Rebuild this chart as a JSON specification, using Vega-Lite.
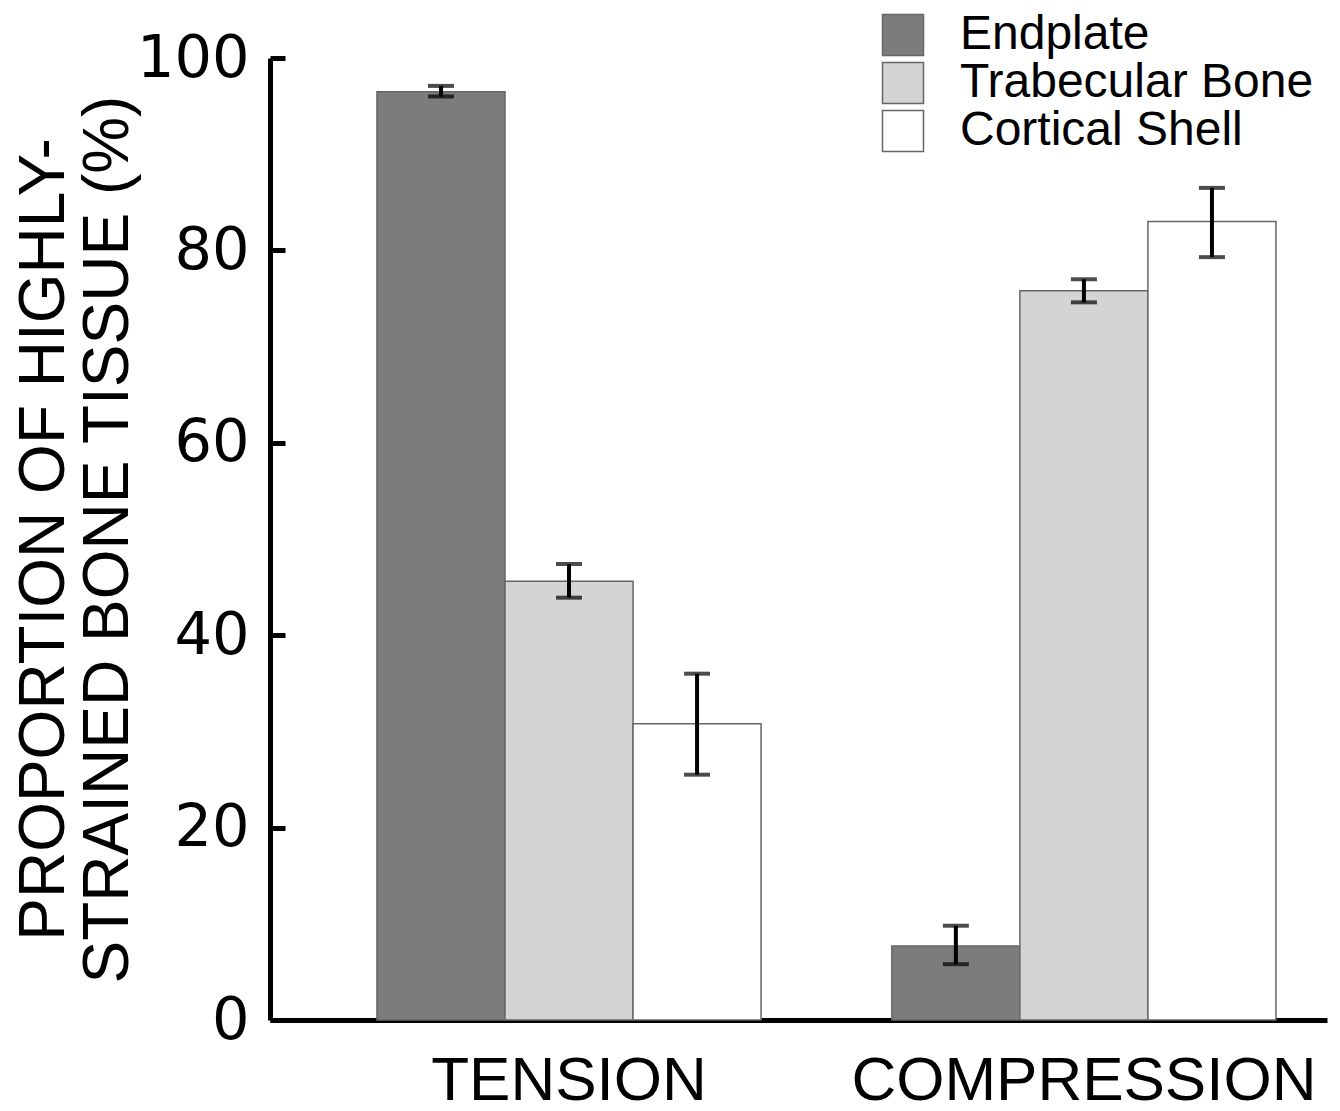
{
  "$schema": "https://vega.github.io/schema/vega-lite/v6.json",
  "width": 1057,
  "height": 962,
  "autosize": {"type": "none"},
  "padding": {"left": 270, "top": 58, "right": 13, "bottom": 91},
  "background": "white",
  "config": {"font": "Liberation Sans", "view": {"stroke": null}},
  "resolve": {"axis": {"y": "independent"}},
  "data": {
    "values": [
      {"load": "TENSION", "tissue": "Endplate", "value": 96.5, "lo": 96.0, "hi": 97.1},
      {"load": "TENSION", "tissue": "Trabecular Bone", "value": 45.6, "lo": 43.9, "hi": 47.4},
      {"load": "TENSION", "tissue": "Cortical Shell", "value": 30.8, "lo": 25.5, "hi": 36.0},
      {"load": "COMPRESSION", "tissue": "Endplate", "value": 7.7, "lo": 5.8, "hi": 9.8},
      {"load": "COMPRESSION", "tissue": "Trabecular Bone", "value": 75.8, "lo": 74.6, "hi": 77.0},
      {"load": "COMPRESSION", "tissue": "Cortical Shell", "value": 83.0, "lo": 79.3, "hi": 86.5}
    ]
  },
  "encoding": {
    "x": {
      "field": "load",
      "type": "nominal",
      "title": null,
      "scale": {"domain": ["TENSION", "COMPRESSION"], "paddingInner": 0.254, "paddingOuter": 0.1534, "align": 0.677},
      "axis": {"labelFontSize": 62, "labelColor": "black", "labelPadding": 30, "labelLimit": 1000, "ticks": false, "tickSize": 0, "domainWidth": 5, "domainColor": "black", "labelAngle": 0, "grid": false}
    },
    "xOffset": {
      "field": "tissue",
      "type": "nominal",
      "scale": {"domain": ["Endplate", "Trabecular Bone", "Cortical Shell"], "paddingInner": 0, "paddingOuter": 0}
    }
  },
  "layer": [
    {
      "mark": {"type": "bar", "stroke": "#666666", "strokeWidth": 1.5},
      "encoding": {
        "y": {
          "field": "value",
          "type": "quantitative",
          "scale": {"domain": [0, 100], "nice": false},
          "axis": {
            "orient": "left",
            "title": ["PROPORTION OF HIGHLY-", "STRAINED BONE TISSUE (%)"],
            "titleFontSize": 64,
            "titleFontWeight": "normal",
            "titleColor": "black",
            "titleAngle": -90,
            "titleAlign": "center",
            "titleBaseline": "alphabetic",
            "titleX": -207,
            "titleY": 481,
            "titleLineHeight": 64,
            "labelFont": "DejaVu Sans",
            "labelFontSize": 59,
            "labelColor": "black",
            "labelPadding": 21,
            "labelLimit": 1000,
            "ticks": false,
            "tickSize": 0,
            "domainWidth": 5,
            "domainColor": "black",
            "values": [0, 20, 40, 60, 80, 100],
            "grid": false,
            "labelFlush": false,
            "labelOverlap": false
          }
        },
        "fill": {
          "field": "tissue",
          "type": "nominal",
          "scale": {"domain": ["Endplate", "Trabecular Bone", "Cortical Shell"], "range": ["#7c7c7c", "#d4d4d4", "#ffffff"]},
          "legend": {
            "title": null,
            "orient": "none",
            "legendX": 609,
            "legendY": -47,
            "padding": 0,
            "symbolType": "square",
            "symbolSize": 1681,
            "labelFontSize": 48,
            "labelColor": "black",
            "labelLimit": 1000,
            "labelOffset": 33,
            "rowPadding": -10,
            "symbolStrokeColor": "#666666",
            "symbolStrokeWidth": 1.5
          }
        }
      }
    },
    {
      "mark": {"type": "rule", "color": "black", "strokeWidth": 4},
      "encoding": {
        "y": {
          "field": "lo",
          "type": "quantitative",
          "scale": {"domain": [0, 100], "nice": false},
          "axis": {
            "orient": "left",
            "offset": -15,
            "title": null,
            "labels": false,
            "domain": false,
            "grid": false,
            "ticks": true,
            "tickSize": 15,
            "tickWidth": 5,
            "tickColor": "black",
            "values": [0, 20, 40, 60, 80, 100]
          }
        },
        "y2": {"field": "hi"}
      }
    },
    {
      "mark": {"type": "tick", "color": "black", "size": 26, "thickness": 4, "orient": "horizontal"},
      "encoding": {
        "y": {"field": "lo", "type": "quantitative", "scale": {"domain": [0, 100], "nice": false}, "axis": null}
      }
    },
    {
      "mark": {"type": "tick", "color": "black", "size": 26, "thickness": 4, "orient": "horizontal"},
      "encoding": {
        "y": {"field": "hi", "type": "quantitative", "scale": {"domain": [0, 100], "nice": false}, "axis": null}
      }
    }
  ]
}
